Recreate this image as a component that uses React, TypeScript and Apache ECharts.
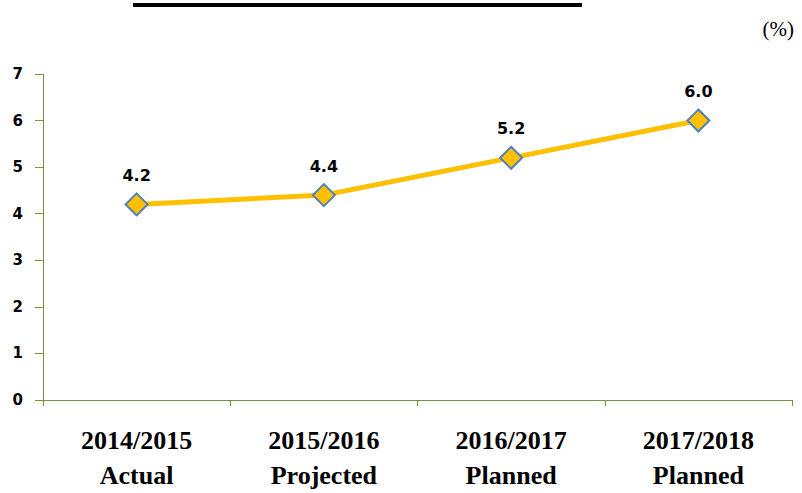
import React, { useEffect, useRef } from "react";
import * as echarts from "echarts";

const categories = ["2014/2015\nActual", "2015/2016\nProjected", "2016/2017\nPlanned", "2017/2018\nPlanned"];
const values = [4.2, 4.4, 5.2, 6.0];
const yMin = 0;
const yMax = 7;
const yInterval = 1;

export default function App() {
  const ref = useRef<HTMLDivElement>(null);
  useEffect(() => {
    if (!ref.current) return;
    const chart = echarts.init(ref.current, null, { renderer: "svg" });
    const axisColor = "#77933C";
    chart.setOption({
      animation: false,
      backgroundColor: "#ffffff",
      grid: { left: 43, right: 10, top: 74, bottom: 82, containLabel: false },
      graphic: [
        { type: "rect", shape: { x: 133, y: 3, width: 449, height: 4 }, style: { fill: "#000000" } },
        {
          type: "text",
          right: 8,
          top: 18,
          style: { text: "(%)", fill: "#000000", font: "21px 'Liberation Serif', serif" },
        },
      ],
      xAxis: {
        type: "category",
        data: categories,
        boundaryGap: true,
        axisLine: { lineStyle: { color: axisColor, width: 1 } },
        axisTick: { show: true, alignWithLabel: false, length: 6, lineStyle: { color: axisColor } },
        axisLabel: {
          color: "#000000",
          fontFamily: "'Liberation Serif', serif",
          fontWeight: "bold",
          fontSize: 26,
          lineHeight: 35,
          margin: 23,
          interval: 0,
        },
        splitLine: { show: false },
      },
      yAxis: {
        type: "value",
        min: yMin,
        max: yMax,
        interval: yInterval,
        axisLine: { show: true, lineStyle: { color: axisColor, width: 1 } },
        axisTick: { show: true, length: 8, lineStyle: { color: axisColor } },
        axisLabel: {
          color: "#000000",
          fontFamily: "'DejaVu Sans', sans-serif",
          fontWeight: "bold",
          fontSize: 15,
          margin: 20,
        },
        splitLine: { show: false },
      },
      series: [
        {
          type: "line",
          data: values,
          lineStyle: { color: "#FFC000", width: 5 },
          symbol: "diamond",
          symbolSize: 22,
          itemStyle: { color: "#FFC000", borderColor: "#4F81BD", borderWidth: 2 },
          label: {
            show: true,
            position: "top",
            distance: 9,
            formatter: (p: any) => Number(p.value).toFixed(1),
            color: "#000000",
            fontFamily: "'DejaVu Sans', sans-serif",
            fontWeight: "bold",
            fontSize: 16,
          },
        },
      ],
    });
    return () => chart.dispose();
  }, []);
  return <div ref={ref} style={{ width: 802, height: 493, position: "absolute", left: 0, top: 0 }} />;
}
